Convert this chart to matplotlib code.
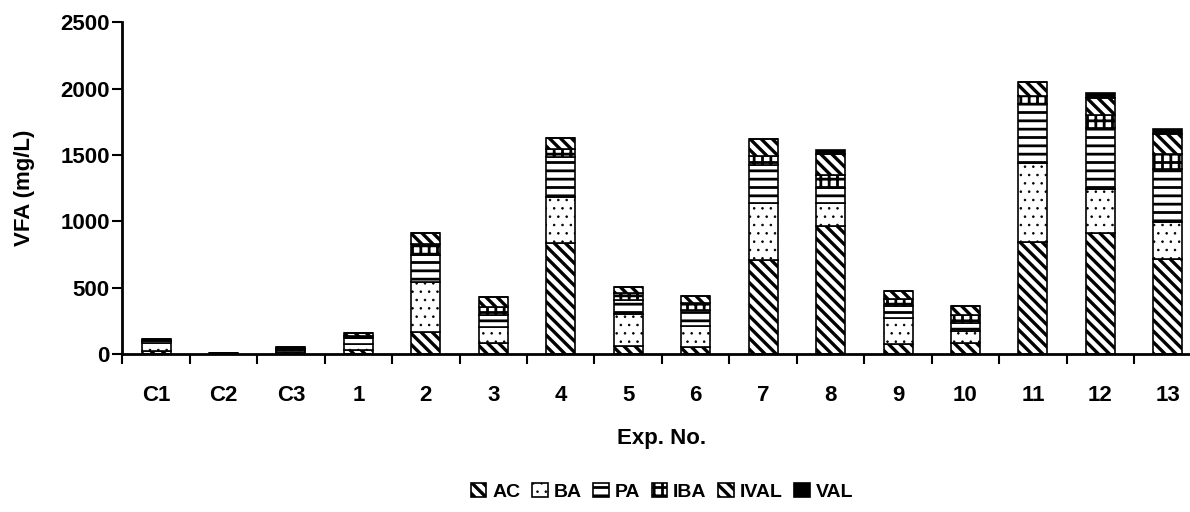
import numpy as np
import matplotlib
matplotlib.use('Agg')
import matplotlib.pyplot as plt

plt.rcParams['font.family'] = ['Liberation Sans', 'DejaVu Sans']
plt.rcParams['font.weight'] = 'bold'
plt.rcParams['hatch.linewidth'] = 2.0

# values (mg/L)
experiments = ['C1', 'C2', 'C3', '1', '2', '3', '4', '5', '6', '7', '8', '9', '10', '11', '12', '13']
AC = [25, 2, 15, 27, 168, 85, 833, 60, 50, 708, 964, 75, 85, 846, 914, 713]
BA = [58, 1, 12, 50, 377, 121, 347, 239, 163, 432, 176, 194, 91, 590, 326, 283]
PA = [15, 1, 12, 40, 201, 88, 306, 108, 118, 283, 108, 92, 55, 447, 460, 395]
IBA = [10, 1, 6, 20, 80, 63, 56, 50, 51, 70, 100, 51, 63, 60, 100, 113]
IVAL = [7, 1, 5, 20, 83, 70, 87, 50, 57, 124, 163, 62, 70, 108, 126, 153]
VAL = [0, 0, 0, 0, 0, 0, 0, 0, 0, 0, 25, 0, 0, 0, 42, 35]

# name, values, face colour, hatch, hatch line width
series = [
    ('AC', AC, 'white', '\\\\\\', 2.4),
    ('BA', BA, 'white', '..', 0.6),
    ('PA', PA, 'white', '--', 2.0),
    ('IBA', IBA, 'white', '++', 2.0),
    ('IVAL', IVAL, 'white', '\\\\\\', 2.4),
    ('VAL', VAL, 'black', None, 1.0),
]


def main():
    fig = plt.figure(figsize=(11.9, 5.12), dpi=100)
    ax = fig.add_axes([0.1028, 0.3086, 0.9069, 0.6479])

    x = np.arange(len(experiments))
    bottom = np.zeros(len(experiments))
    for name, vals, color, hatch, hlw in series:
        vals = np.array(vals, dtype=float)
        with plt.rc_context({'hatch.linewidth': hlw}):
            bars = ax.bar(x, vals, 0.43, bottom=bottom, color=color,
                          edgecolor='black', hatch=hatch, linewidth=1.2,
                          label=name)
        for p in bars:
            if hasattr(p, 'set_hatch_linewidth'):
                p.set_hatch_linewidth(hlw)
        bottom += vals

    ax.set_xlim(-0.5, len(experiments) - 0.5)
    ax.set_ylim(0, 2500)
    ax.set_yticks(range(0, 2501, 500))

    ax.set_xticks(x)
    ax.set_xticklabels(experiments)
    ax.set_xticks(np.arange(-0.5, len(experiments), 1), minor=True)
    ax.tick_params(axis='x', which='major', length=0, pad=22, labelsize=16)
    ax.tick_params(axis='x', which='minor', length=7, width=1.5, direction='out')
    ax.tick_params(axis='y', length=7, width=1.5, pad=2, labelsize=16)

    for side in ['top', 'right']:
        ax.spines[side].set_visible(False)
    for side in ['left', 'bottom']:
        ax.spines[side].set_linewidth(2)

    ax.set_xlabel('Exp. No.', fontsize=16, fontweight='bold', labelpad=16)
    ax.set_ylabel('VFA (mg/L)', fontsize=16, fontweight='bold', labelpad=18)

    leg = ax.legend(loc='center', bbox_to_anchor=(0.5, -0.415), ncol=6,
                    frameon=False, fontsize=14, handlelength=0.8,
                    handleheight=0.8, handletextpad=0.3, columnspacing=0.6)
    for h, (_, _, _, _, hlw) in zip(leg.legend_handles, series):
        if hasattr(h, 'set_hatch_linewidth'):
            h.set_hatch_linewidth(hlw)

    fig.savefig('out.png', dpi=100)
    plt.close(fig)


if __name__ == '__main__':
    main()
